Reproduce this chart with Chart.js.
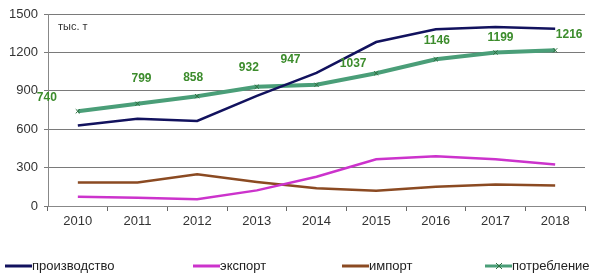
<!DOCTYPE html>
<html>
<head>
<meta charset="utf-8">
<script src="https://cdn.jsdelivr.net/npm/chart.js@4"></script>
<style>
    html, body { margin: 0; padding: 0; background: #fff; overflow: hidden; }
    #wrap { width: 590px; height: 274px; position: relative; }
</style>
</head>
<body>
<div id="wrap"><canvas id="chart" width="590" height="274"></canvas></div>
<script>
const years = ['2010', '2011', '2012', '2013', '2014', '2015', '2016', '2017', '2018']
const production = [628, 682, 664, 860, 1040, 1281, 1380, 1398, 1385]
const exports = [72, 65, 52, 122, 228, 365, 388, 365, 325]
const imports = [183, 183, 248, 188, 138, 120, 150, 167, 160]
const consumption = [740, 799, 858, 932, 947, 1037, 1146, 1199, 1216]
const yTicks = [0, 300, 600, 900, 1200, 1500]

// hand placed value labels, offsets in px from the point
const labelShift = [[-31, -14], [4, -25], [-4, -18], [-8, -19], [-26, -25], [-23, -10], [1, -19], [5, -15], [14, -16]]
const legendX = [5, 193, 342, 485]

const valueLabels = {
    id: 'valueLabels',
    afterDatasetsDraw(chart) {
        const ctx = chart.ctx
        const meta = chart.getDatasetMeta(3)
        ctx.save()
        ctx.font = 'bold 12px "Liberation Sans", Arial, sans-serif'
        ctx.fillStyle = '#3c8c2c'
        ctx.textAlign = 'center'
        ctx.textBaseline = 'middle'
        meta.data.forEach((pt, i) => {
            ctx.fillText(String(consumption[i]), pt.x + labelShift[i][0], pt.y + labelShift[i][1])
        })
        // units
        ctx.font = '11px "Liberation Sans", Arial, sans-serif'
        ctx.fillStyle = '#333'
        ctx.textAlign = 'left'
        ctx.fillText('тыс. т', chart.chartArea.left + 10, chart.chartArea.top + 13)
        ctx.restore()
    }
}

const bottomLegend = {
    id: 'bottomLegend',
    afterDraw(chart) {
        const ctx = chart.ctx
        const y = 266
        ctx.save()
        ctx.font = '13px "Liberation Sans", Arial, sans-serif'
        ctx.textBaseline = 'middle'
        chart.data.datasets.forEach((ds, i) => {
            const x = legendX[i]
            ctx.strokeStyle = ds.borderColor
            ctx.lineWidth = 3
            ctx.beginPath()
            ctx.moveTo(x, y)
            ctx.lineTo(x + 27, y)
            ctx.stroke()
            if (ds.pointStyle === 'crossRot') {
                ctx.strokeStyle = ds.pointBorderColor
                ctx.lineWidth = 1
                ctx.beginPath()
                ctx.moveTo(x + 11, y - 3); ctx.lineTo(x + 17, y + 3)
                ctx.moveTo(x + 17, y - 3); ctx.lineTo(x + 11, y + 3)
                ctx.stroke()
            }
            ctx.fillStyle = '#222'
            ctx.fillText(ds.label, x + 27, y)
        })
        ctx.restore()
    }
}

new Chart(document.getElementById('chart').getContext('2d'), {
    type: 'line',
    data: {
        labels: years,
        datasets: [{
            label: 'производство',
            data: production,
            borderColor: '#12125e',
            borderWidth: 2.5,
            pointRadius: 0,
            tension: 0
        }, {
            label: 'экспорт',
            data: exports,
            borderColor: '#cc33cc',
            borderWidth: 2.5,
            pointRadius: 0,
            tension: 0
        }, {
            label: 'импорт',
            data: imports,
            borderColor: '#8b4a22',
            borderWidth: 2.5,
            pointRadius: 0,
            tension: 0
        }, {
            label: 'потребление',
            data: consumption,
            borderColor: '#4a9e78',
            borderWidth: 4,
            pointStyle: 'crossRot',
            pointRadius: 3,
            pointBorderColor: '#2e6e3e',
            pointBorderWidth: 1,
            tension: 0
        }]
    },
    options: {
        responsive: false,
        animation: false,
        layout: { padding: { top: 14, right: 2, left: 0, bottom: 0 } },
        plugins: {
            legend: { display: false },
            tooltip: { enabled: false }
        },
        scales: {
            x: {
                offset: true,
                afterFit: s => { s.height = 68 },
                grid: { offset: true, drawOnChartArea: false, drawTicks: true, tickLength: 5, color: '#666' },
                border: { color: '#888', width: 1 },
                ticks: { color: '#333', padding: 3, font: { size: 13, family: '"Liberation Sans", Arial, sans-serif' } }
            },
            y: {
                min: 0,
                max: 1500,
                afterFit: s => { s.width = 48 },
                afterBuildTicks: s => { s.ticks = yTicks.map(v => ({value: v})) },
                grid: { color: '#7a7a7a', tickLength: 4, lineWidth: 1 },
                border: { color: '#888', width: 1 },
                ticks: {
                    color: '#333',
                    padding: 6,
                    font: { size: 13, family: '"Liberation Sans", Arial, sans-serif' },
                    callback: v => String(v)
                }
            }
        }
    },
    plugins: [valueLabels, bottomLegend]
})
</script>
</body>
</html>
